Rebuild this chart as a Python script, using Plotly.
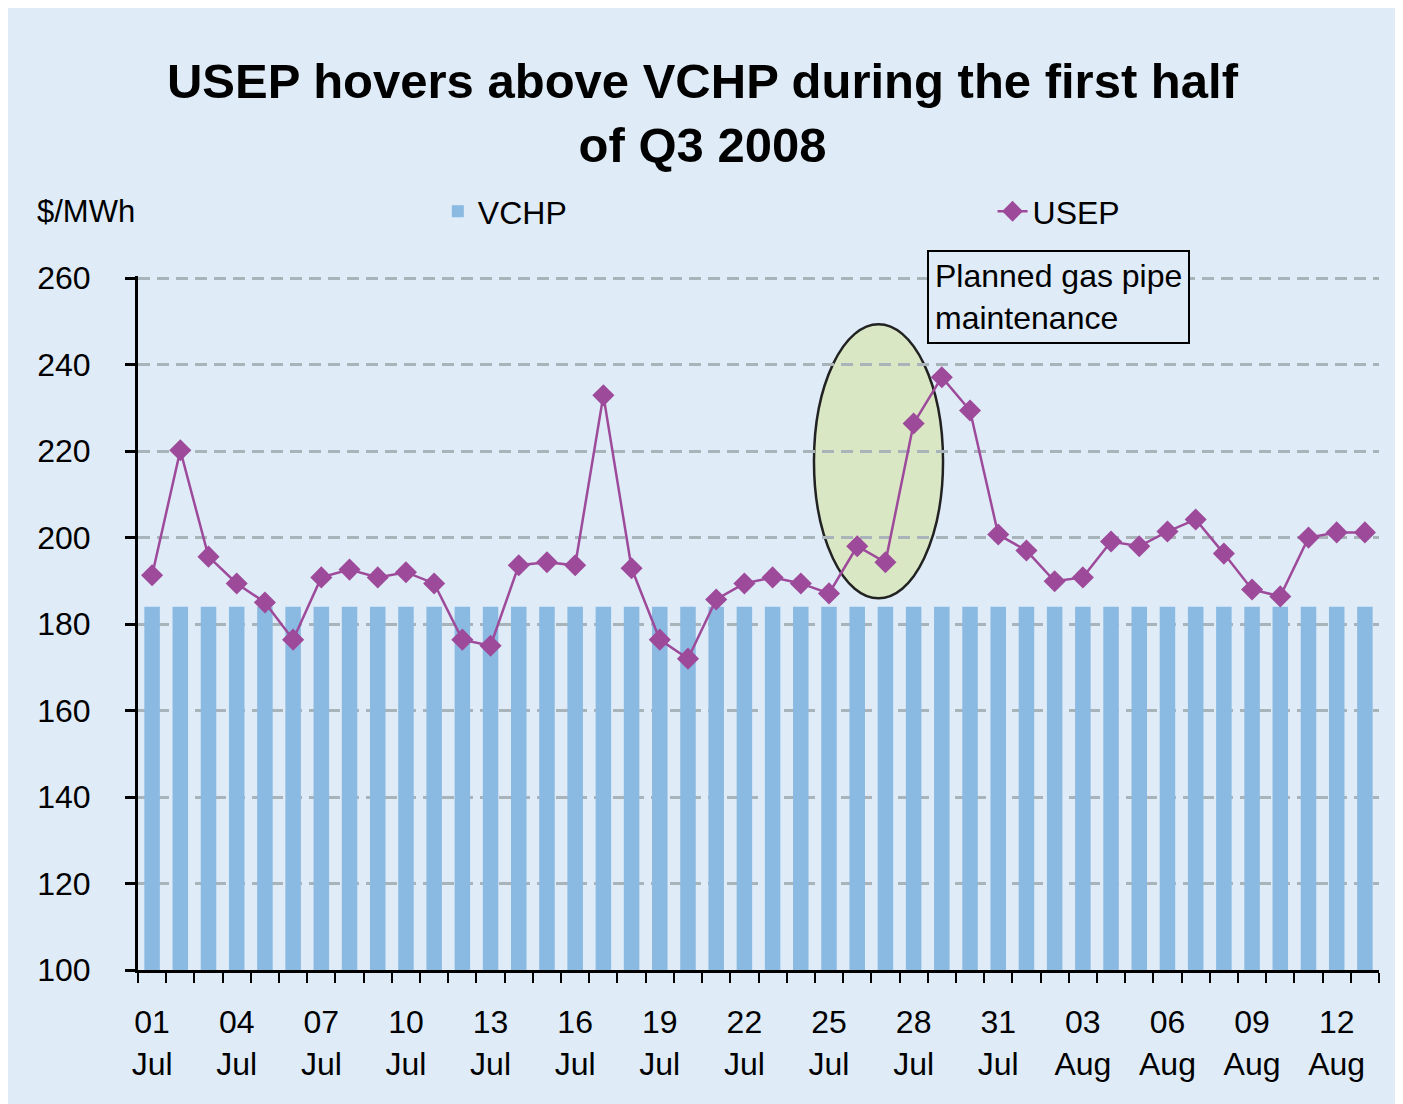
import plotly.graph_objects as go

dates = [f"2008-07-{d:02d}" for d in range(1, 32)] + [f"2008-08-{d:02d}" for d in range(1, 14)]

usep = [191.3, 220.2, 195.6, 189.4, 185.0, 176.4, 190.8, 192.6, 190.8, 192.0,
        189.4, 176.4, 175.0, 193.6, 194.3, 193.6, 232.9, 192.9, 176.4, 172.0,
        185.7, 189.4, 190.8, 189.4, 187.1, 198.0, 194.3, 226.4, 237.1, 229.4,
        200.7, 197.0, 189.9, 190.8, 199.1, 198.0, 201.4, 204.2, 196.3, 188.0,
        186.4, 200.0, 201.2, 201.2]

vchp = [184.0] * len(dates)

tick_dates = dates[::3]
tick_text = ["01<br>Jul", "04<br>Jul", "07<br>Jul", "10<br>Jul", "13<br>Jul", "16<br>Jul",
             "19<br>Jul", "22<br>Jul", "25<br>Jul", "28<br>Jul", "31<br>Jul", "03<br>Aug",
             "06<br>Aug", "09<br>Aug", "12<br>Aug"]

y_ticks = [100, 120, 140, 160, 180, 200, 220, 240, 260]

BG = "#DFECF8"
FONT = "Liberation Sans, Arial, sans-serif"

fig = go.Figure()
fig.add_trace(go.Bar(x=dates, y=vchp, name="VCHP", marker_color="#8AB9E1",
                     marker_line_width=0, width=0.55 * 86400000, legend="legend"))
fig.add_trace(go.Scatter(x=dates, y=usep, name="USEP", mode="lines+markers",
                         line=dict(color="#9E4A9A", width=2.5),
                         marker=dict(symbol="diamond", size=17, color="#9E4A9A"),
                         legend="legend2"))

fig.update_layout(
    width=1403, height=1104,
    paper_bgcolor=BG, plot_bgcolor=BG,
    margin=dict(l=130, r=32, t=268, b=142),
    font=dict(family=FONT, color="black", size=32),
    title=dict(text="<b>USEP hovers above VCHP during the first half<br>of Q3 2008</b>",
               x=0.495, xanchor="center", y=1 - 90 / 1104, yanchor="top",
               font=dict(size=49, family=FONT, color="black")),
    showlegend=True,
    legend=dict(x=0.2416, xanchor="left", y=1.093, yanchor="middle",
                bgcolor="rgba(0,0,0,0)", font=dict(size=32)),
    legend2=dict(x=0.6886, xanchor="left", y=1.093, yanchor="middle",
                 bgcolor="rgba(0,0,0,0)", font=dict(size=32)),
    bargap=0.45,
)

fig.update_xaxes(
    type="date",
    range=["2008-06-30 12:00", "2008-08-13 12:00"],
    tickmode="array", tickvals=tick_dates, ticktext=tick_text,
    ticks="", showgrid=False,
    showline=True, linecolor="black", linewidth=3,
    ticklabelstandoff=22,
    tickfont=dict(size=32),
    minor=dict(ticks="outside", tick0="2008-06-30 12:00", dtick=86400000,
               ticklen=10, tickwidth=2, tickcolor="black", showgrid=False),
)

fig.update_yaxes(
    range=[100, 260.5], tickmode="array", tickvals=y_ticks,
    showgrid=True, gridcolor="#A9B3BA", gridwidth=3, griddash="12px,7px",
    showline=True, linecolor="black", linewidth=3,
    ticks="outside", ticklen=10, tickwidth=3, tickcolor="black",
    ticklabelstandoff=28, tickfont=dict(size=32), zeroline=False,
)

fig.add_annotation(text="$/MWh", xref="paper", yref="paper",
                   x=-0.083, y=1.093, xanchor="left", yanchor="middle",
                   showarrow=False, font=dict(size=31))

fig.add_annotation(text="Planned gas pipe<br>maintenance", xref="paper", yref="paper",
                   x=0.636, y=0.9696, xanchor="left", yanchor="middle", align="left",
                   showarrow=False, font=dict(size=32),
                   bordercolor="black", borderwidth=2, borderpad=6, bgcolor=BG)

fig.add_shape(type="circle", xref="paper", yref="paper",
              x0=0.5447, x1=0.6487, y0=0.5355, y1=0.9305,
              fillcolor="#D9E7C4", line=dict(color="#222222", width=2.5), layer="below")

fig.write_html("out.html")
